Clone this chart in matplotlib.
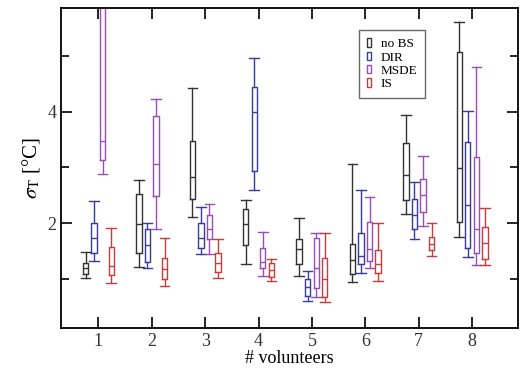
import matplotlib
matplotlib.use("Agg")
import matplotlib.pyplot as plt
from matplotlib.patches import Rectangle
from matplotlib.ticker import MultipleLocator

plt.rcParams['font.family'] = ['Liberation Serif', 'DejaVu Serif']
plt.rcParams['mathtext.fontset'] = 'stix'

groups = [1, 2, 3, 4, 5, 6, 7, 8]
series = ["no BS", "DIR", "MSDE", "IS"]
colors = ["#333333", "#3a3aa0", "#9a4cb8", "#c83c3c"]

# each entry per group: (whislo, q1, med, q3, whishi)
nobs = [(1.02, 1.08, 1.20, 1.29, 1.48), (1.22, 1.47, 1.98, 2.52, 2.78),
        (2.12, 2.43, 2.82, 3.47, 4.42), (1.26, 1.61, 1.98, 2.26, 2.41),
        (1.06, 1.26, 1.53, 1.71, 2.10), (0.94, 1.08, 1.34, 1.63, 3.06),
        (2.16, 2.41, 2.86, 3.44, 3.94), (1.76, 2.02, 2.99, 5.07, 5.61)]
dir_ = [(1.33, 1.47, 1.73, 2.01, 2.40), (1.20, 1.30, 1.61, 1.90, 2.01),
        (1.45, 1.55, 1.74, 2.00, 2.29), (2.59, 2.94, 3.99, 4.44, 4.97),
        (0.60, 0.70, 0.85, 0.99, 1.14), (1.11, 1.26, 1.41, 1.82, 2.60),
        (1.71, 1.89, 2.14, 2.44, 2.74), (1.40, 1.55, 2.32, 3.46, 4.02)]
msde = [(2.89, 3.14, 3.48, 6.30, 7.50), (1.89, 2.48, 3.07, 3.92, 4.22),
        (1.45, 1.71, 1.89, 2.14, 2.34), (1.06, 1.20, 1.30, 1.56, 1.85),
        (0.68, 0.83, 1.19, 1.73, 1.83), (1.19, 1.33, 1.53, 2.03, 2.47),
        (1.95, 2.20, 2.50, 2.79, 3.20), (1.25, 1.46, 1.90, 3.19, 4.80)]
is_ = [(0.92, 1.07, 1.23, 1.57, 1.92), (0.88, 0.99, 1.18, 1.38, 1.73),
       (1.02, 1.13, 1.28, 1.46, 1.71), (0.96, 1.04, 1.16, 1.29, 1.35),
       (0.59, 0.68, 0.99, 1.38, 1.83), (0.96, 1.11, 1.26, 1.52, 2.01),
       (1.41, 1.52, 1.63, 1.75, 2.01), (1.25, 1.35, 1.65, 1.94, 2.27)]
all_series = [nobs, dir_, msde, is_]
offsets = [-0.24, -0.08, 0.08, 0.24]

fig = plt.figure(figsize=(5.22, 3.70), dpi=100)
ax = fig.add_axes([61/522, 1-328/370, (518-61)/522, (328-8)/370])

for s, data in enumerate(all_series):
    stats = []
    for d in data:
        lo, q1, med, q3, hi = d
        stats.append(dict(whislo=lo, q1=q1, med=med, q3=q3, whishi=hi, fliers=[]))
    pos = [g + offsets[s] for g in groups]
    c = colors[s]
    lw = 1.0
    ax.bxp(stats, positions=pos, widths=0.1, capwidths=0.18, showfliers=False,
           manage_ticks=False,
           boxprops=dict(color=c, linewidth=lw),
           whiskerprops=dict(color=c, linewidth=lw),
           capprops=dict(color=c, linewidth=lw),
           medianprops=dict(color=c, linewidth=lw))

ax.set_xlim(0.3, 8.86)
ax.set_ylim(0.12, 5.86)
ax.set_xticks(groups)
ax.set_xticklabels([str(g) for g in groups])
ax.yaxis.set_major_locator(MultipleLocator(2))
ax.yaxis.set_minor_locator(MultipleLocator(1))
ax.tick_params(which='both', direction='in', top=True, right=True, labelsize=13,
               width=1.2, labelcolor='#333333')
ax.tick_params(which='major', length=8)
ax.tick_params(which='minor', length=6)
for sp in ax.spines.values():
    sp.set_linewidth(1.3)

ax.set_xlabel("# volunteers", fontsize=13, labelpad=0)
ax.set_ylabel(r"$\sigma_{\mathrm{T}}$ [°C]", fontsize=15, labelpad=4)

handles = [Rectangle((0, 0), 1, 1, facecolor='none', edgecolor=c, linewidth=1) for c in colors]
leg = ax.legend(handles, series, loc='upper left', bbox_to_anchor=(0.652, 0.93),
                fontsize=9.5, frameon=True, fancybox=False, handlelength=0.35,
                handleheight=0.6, handletextpad=0.7, borderpad=0.6, labelspacing=0.1,
                borderaxespad=0.0)
leg.get_frame().set_edgecolor('#444444')
leg.get_frame().set_linewidth(1.0)

fig.savefig("out.png", dpi=100)
